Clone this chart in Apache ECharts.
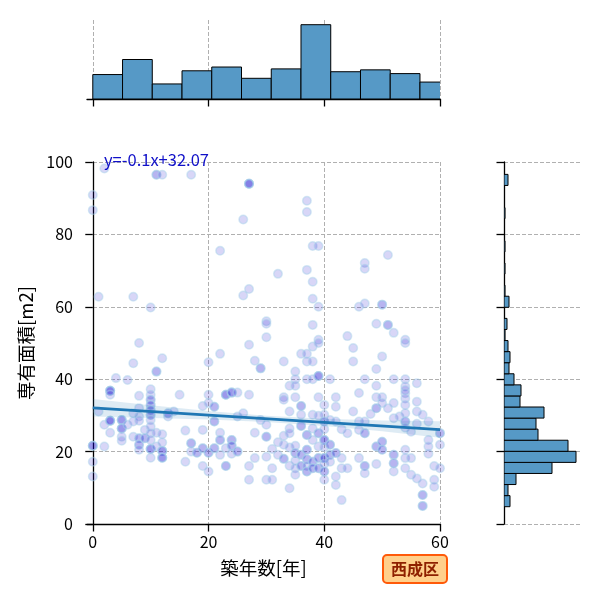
<!DOCTYPE html>
<html><head><meta charset="utf-8">
<script src="https://cdn.jsdelivr.net/npm/echarts@6/dist/echarts.min.js"></script>
<style>html,body{margin:0;padding:0;background:#fff}#c{width:600px;height:600px}</style>
</head><body><div id="c"></div>
<script>
// ---- data ----
const ages = [0,1,2,3,4,5,6,7,8,9,10,11,12,13,14,15,16,17,18,19,20,21,22,23,24,25,26,27,28,29,30,
  31,32,33,34,35,36,37,38,39,40,41,42,43,44,45,46,47,48,49,50,51,52,53,54,55,56,57,58,59,60];
const areasByAge = [
  [90.9,86.7,21.6,21.6,21.6,17.2,13.1],
  [62.8,31.1],
  [98.2,27.4,21.4],
  [36.8,36.8,36.8,36.8,35.7,28.5,28.5,28.5,28.5,25.2],
  [40.3],
  [28.7,28.7,28.7,26.4,26.4,26.4,24.1,23.0],
  [39.8,27.4],
  [62.8,44.4,30.6,28.3,24.1],
  [50.0,35.4,32.0,29.7,28.5,23.7,23.7,21.9,21.9,20.5],
  [26.0,23.7,23.7],
  [59.8,37.2,35.7,34.3,34.3,32.9,32.9,31.5,31.5,30.1,30.1,28.7,26.9,25.1,23.2,20.7,20.7,20.7,18.3],
  [96.5,96.5,42.1,42.1,25.2,21.4],
  [96.5,45.8,24.8,22.5,20.2,20.2,20.2,18.3,18.3,18.3],
  [30.6,30.6,29.7],
  [31.1],
  [35.7],
  [25.8,17.2],
  [96.5,22.3,22.3,20.0],
  [19.7,19.7],
  [32.6,26.0,20.9,20.9,16.0],
  [44.7,35.7,33.4,19.7,19.7,14.5],
  [32.4,32.4,28.3,28.3,20.9,20.9],
  [75.5,47.0,25.2,23.2,23.2,19.1],
  [35.7,35.7,35.7,20.9,16.0,16.0],
  [36.3,36.3,36.3,23.2,23.2,21.6,21.6,19.4],
  [36.3,29.7,20.0,20.0],
  [84.1,63.1,30.6],
  [94.0,94.0,94.0,94.0,64.9,49.5,35.7,16.0,12.2],
  [45.1,25.2,18.2],
  [43.0,43.0,28.7],
  [56.0,55.3,51.6,27.4,24.1,24.1,18.6,12.2],
  [20.7,15.4,12.2],
  [69.1,22.6,19.1],
  [44.9,35.0,34.3,24.4,21.9,18.0,18.0],
  [38.2,31.1,26.4,25.1,21.1,16.1,9.9],
  [42.1,40.0,38.2,35.0,21.6,19.6,19.6,17.5,15.4,13.6],
  [47.0,32.6,32.6,30.2,27.1,27.1,19.1,19.1,16.0,16.0],
  [89.3,86.2,70.2,47.0,44.9,40.0,24.6,24.6,20.5,20.5,17.9,17.9,16.0,14.5,14.5],
  [76.8,66.9,62.2,55.0,49.0,44.9,40.0,30.2,26.4,23.2,17.2,17.2,15.4,15.4],
  [76.8,60.0,50.9,50.0,40.9,40.9,40.9,35.0,29.9,25.1,25.1,21.4,18.2,18.2,15.4,15.4],
  [32.9,30.2,28.3,28.3,26.2,23.2,23.2,23.2,21.2,18.2,18.2,18.2,16.6,14.5,14.5,12.2],
  [40.0,28.7,21.9,21.9,19.1,19.1,17.2],
  [35.0,32.4,28.3,19.6,19.6,13.1,10.8],
  [26.2,18.2,15.4,6.6],
  [51.9,25.1,15.4],
  [48.6,44.9,31.1],
  [60.0,36.2,28.3,26.0,18.2],
  [72.1,70.5,60.9,40.0,28.3,25.1,25.1,16.0,16.0,14.0],
  [30.4],
  [55.3,42.8,38.2,35.0,32.0,32.0,21.4,21.4,16.6],
  [60.6,60.6,46.3,35.0,33.4,22.7,22.7,20.5,20.5],
  [74.3,55.0,55.0,32.0],
  [52.8,40.0,33.4,29.2,19.1,19.1,16.8,16.8,14.5],
  [29.7],
  [50.9,50.0,40.0,38.0,37.0,36.1,34.7,32.9,30.6,28.3,28.3,26.6,20.5,18.2,15.4],
  [25.5,18.2,13.6],
  [38.9,33.8,31.1,27.7,12.6],
  [30.2,11.2,8.0,8.0,5.0,5.0],
  [28.3,23.2,21.4,19.4],
  [16.0,12.2,10.3],
  [25.1,25.1,21.9,15.4]
];
// marginal histogram of 築年数 (equal-width bins)
const ageBinStart = 0, ageBinWidth = 5.14;
const ageCounts = [26,42,16,30,34,22,32,79,29,31,27,18];
// marginal histogram of 専有面積 (equal-width bins)
const areaBinStart = 4.78, areaBinWidth = 3.06;
const areaCounts = [6,4,12,48,72,64,34,32,40,16,17,10,5,6,4,1,3,0,5,1,0,1,0,1,0,0,1,0,0,4];
// regression line and its confidence band
const regX = [0, 60];
const regY = [32.07, 26.07];
const bandX = [0,10,20,30,40,50,60];
const bandLow = [29.7,29.3,28.9,28.2,27.1,25.6,23.8];
const bandHigh = [34.5,32.8,31.2,29.9,29.1,28.6,28.4];
const xTicks = [0,20,40,60];
const yTicks = [0,20,40,60,80,100];
const annotationText = 'y=-0.1x+32.07';
const wardName = '西成区';
const xLabel = '築年数[年]';
const yLabel = '専有面積[m2]';

// ---- build ----
const points = [];
ages.forEach((a, i) => areasByAge[i].forEach(v => points.push([a, v])));
const ageBins = ageCounts.map((c, i) => [ageBinStart + i * ageBinWidth, ageBinStart + (i + 1) * ageBinWidth, c]).filter(d => d[2] > 0);
const areaBins = areaCounts.map((c, i) => [areaBinStart + i * areaBinWidth, areaBinStart + (i + 1) * areaBinWidth, c]).filter(d => d[2] > 0);

const FONT = 'Noto Sans CJK JP';
const gridLine = { show: true, lineStyle: { color: '#b0b0b0', type: [4, 2], width: 1 } };
const spine = { show: true, lineStyle: { color: '#000', width: 1.3 } };
const tick = { show: true, length: 7.5, lineStyle: { color: '#000', width: 1.3 } };
const barFill = '#5699c6';

const chart = echarts.init(document.getElementById('c'), null, { renderer: 'canvas' });
chart.setOption({
  animation: false,
  textStyle: { fontFamily: FONT },
  grid: [
    { left: 87, top: 162, width: 353, height: 362 },
    { left: 87, top: 20, width: 353, height: 79 },
    { left: 504, top: 162, width: 76, height: 362 }
  ],
  xAxis: [
    { gridIndex: 0, type: 'value', min: -1, max: 60,
      axisLine: spine,
      axisTick: Object.assign({ customValues: xTicks }, tick),
      axisLabel: { customValues: xTicks, color: '#000', fontSize: 16, margin: 10, fontFamily: FONT },
      splitLine: gridLine,
      name: xLabel, nameLocation: 'middle', nameGap: 35,
      nameTextStyle: { fontSize: 18.5, color: '#000', fontFamily: FONT } },
    { gridIndex: 1, type: 'value', min: -1, max: 60,
      axisLine: spine,
      axisTick: Object.assign({ customValues: xTicks }, tick),
      axisLabel: { show: false, customValues: xTicks },
      splitLine: gridLine },
    { gridIndex: 2, type: 'value', min: 0, max: 76, show: false }
  ],
  yAxis: [
    { gridIndex: 0, type: 'value', min: 0, max: 100, interval: 20,
      axisLine: spine,
      axisTick: tick,
      axisLabel: { color: '#000', fontSize: 16, margin: 14, fontFamily: FONT },
      splitLine: gridLine,
      name: yLabel, nameLocation: 'middle', nameGap: 44,
      nameTextStyle: { fontSize: 18.5, color: '#000', fontFamily: FONT } },
    { gridIndex: 1, type: 'value', min: 0, max: 84, show: false },
    { gridIndex: 2, type: 'value', min: 0, max: 100, interval: 20,
      axisLine: spine,
      axisTick: tick,
      axisLabel: { show: false },
      splitLine: gridLine }
  ],
  series: [
    { type: 'scatter', xAxisIndex: 0, yAxisIndex: 0, data: points, symbolSize: 8.5,
      itemStyle: { color: 'rgba(10,0,205,0.2)', borderColor: 'rgba(170,210,235,0.6)', borderWidth: 1.5 },
      emphasis: { disabled: true }, z: 2 },
    { type: 'custom', xAxisIndex: 0, yAxisIndex: 0, data: [0], clip: true, z: 3, silent: true,
      renderItem: function (params, api) {
        const up = bandX.map((x, i) => api.coord([x, bandHigh[i]]));
        const lo = bandX.map((x, i) => api.coord([x, bandLow[i]])).reverse();
        return { type: 'polygon', shape: { points: up.concat(lo) },
          style: { fill: 'rgba(31,119,180,0.15)', stroke: null } };
      } },
    { type: 'line', xAxisIndex: 0, yAxisIndex: 0, data: regX.map((x, i) => [x, regY[i]]),
      symbol: 'none', lineStyle: { color: '#1f77b4', width: 2.6 }, z: 4, silent: true },
    { type: 'custom', xAxisIndex: 1, yAxisIndex: 1, data: ageBins, clip: true, silent: true,
      renderItem: function (params, api) {
        const p0 = api.coord([api.value(0), 0]);
        const p1 = api.coord([api.value(1), api.value(2)]);
        return { type: 'rect', shape: { x: p0[0], y: p1[1], width: p1[0] - p0[0], height: p0[1] - p1[1] },
          style: { fill: barFill, stroke: '#000', lineWidth: 1 } };
      } },
    { type: 'custom', xAxisIndex: 2, yAxisIndex: 2, data: areaBins, clip: true, silent: true,
      renderItem: function (params, api) {
        const p0 = api.coord([0, api.value(0)]);
        const p1 = api.coord([api.value(2), api.value(1)]);
        return { type: 'rect', shape: { x: p0[0], y: p1[1], width: p1[0] - p0[0], height: p0[1] - p1[1] },
          style: { fill: barFill, stroke: '#000', lineWidth: 1 } };
      } }
  ],
  graphic: [
    { type: 'text', left: 104, top: 151, z: 10,
      style: { text: annotationText, fill: '#1010c8', font: '16.5px "Noto Sans CJK JP"' } },
    { type: 'group', left: 382, top: 554, z: 10, children: [
      { type: 'rect', shape: { x: 0, y: 0, width: 64, height: 28, r: 4 },
        style: { fill: '#ffd08c', stroke: '#ff5a0a', lineWidth: 2 } },
      { type: 'text', x: 32, y: 14,
        style: { text: wardName, fill: '#8f2000', font: 'bold 16px "Noto Sans CJK JP"', align: 'center', verticalAlign: 'middle' } }
    ] }
  ]
});
</script>
</body></html>
